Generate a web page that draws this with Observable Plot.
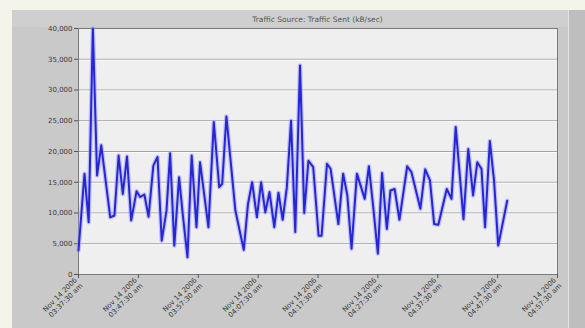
<!DOCTYPE html>
<html>
<head>
<meta charset="utf-8">
<script src="https://cdn.jsdelivr.net/npm/d3@7"></script>
<script src="https://cdn.jsdelivr.net/npm/@observablehq/plot@0.6"></script>
<style>
  html, body { margin: 0; padding: 0; background: #f5f4ea; }
  #wrap { position: relative; width: 585px; height: 328px; overflow: hidden; }
  #panel { position: absolute; left: 12px; top: 10px; width: 556px; height: 318px; background: #c9c9c9; }
  #band { position: absolute; left: 12px; top: 10px; width: 556px; height: 17px; background: #cfcfcf; }
  #edge { position: absolute; left: 568px; top: 10px; width: 17px; height: 318px; background: #bebebe; border-left: 1px solid #e2e2e2; }
  #chart { position: absolute; left: 0; top: 0; }
  #title { position: absolute; left: 78px; width: 479px; top: 15px; text-align: center;
           font: 7.5px "DejaVu Sans", sans-serif; color: #555; }
</style>
</head>
<body>
<div id="wrap">
  <div id="panel"></div>
  <div id="band"></div>
  <div id="edge"></div>
  <div id="title">Traffic Source: Traffic Sent (kB/sec)</div>
  <div id="chart"></div>
</div>
<script>
// minutes after the first tick label
const minutes = [0.0, 1.0, 1.7, 2.4, 3.1, 3.8, 5.3, 6.0, 6.7, 7.4, 8.1, 8.8, 9.7, 10.3, 11.0, 11.7, 12.5, 13.2, 13.9, 14.7,
  15.3, 16.0, 16.8, 17.4, 18.2, 18.9, 19.7, 20.3, 21.7, 22.6, 23.5, 24.0, 24.7, 26.2, 27.6, 28.3, 29.0, 29.8, 30.5, 31.2,
  31.9, 32.7, 33.4, 34.1, 34.8, 35.5, 36.2, 37.0, 37.7, 38.4, 39.2, 40.1, 40.6, 41.5, 42.1, 43.4, 44.2, 44.9, 45.6, 46.5,
  47.8, 48.5, 49.2, 50.0, 50.7, 51.5, 52.1, 52.8, 53.6, 54.9, 55.6, 57.1, 57.9, 58.7, 59.4, 60.1, 61.5, 62.3, 63.0, 64.3,
  65.1, 65.9, 66.6, 67.3, 67.9, 68.7, 69.4, 70.1, 71.6];
// traffic sent (kB/sec)
const traffic = [3900, 16400, 8500, 40000, 16100, 21000, 9300, 9600, 19350, 13100, 19200, 8800, 13550, 12600, 13000, 9400, 17700, 19100, 5500, 10400,
  19700, 4700, 15800, 9900, 2800, 19350, 7700, 18250, 7700, 24800, 14200, 14750, 25700, 10400, 4000, 11400, 15000, 9300, 15000, 10100,
  13400, 7700, 13300, 8900, 14200, 25000, 6900, 34000, 10000, 18500, 17450, 6300, 6300, 18000, 17200, 8200, 16400, 12850, 4200, 16400,
  12300, 17600, 11200, 3400, 16500, 7400, 13650, 13900, 8900, 17600, 16650, 10700, 17100, 15300, 8200, 8100, 13900, 12300, 24000, 9000,
  20400, 12850, 18250, 17200, 7700, 21700, 15300, 4700, 12000];
const xTickValues = [0, 10, 20, 30, 40, 50, 60, 70, 80];
const xTickLabels = [
  "Nov 14 2006\n03:37:30 am", "Nov 14 2006\n03:47:30 am", "Nov 14 2006\n03:57:30 am",
  "Nov 14 2006\n04:07:30 am", "Nov 14 2006\n04:17:30 am", "Nov 14 2006\n04:27:30 am",
  "Nov 14 2006\n04:37:30 am", "Nov 14 2006\n04:47:30 am", "Nov 14 2006\n04:57:30 am"];
const yTickValues = [0, 5000, 10000, 15000, 20000, 25000, 30000, 35000, 40000];

const data = minutes.map((m, i) => ({m, v: traffic[i]}));

const chart = Plot.plot({
  width: 585,
  height: 328,
  marginLeft: 78,
  marginRight: 28,
  marginTop: 28,
  marginBottom: 54,
  style: {background: "transparent", fontFamily: "DejaVu Sans, sans-serif", fontSize: "7px", color: "#3a3a3a"},
  x: {domain: [0, 80], label: null},
  y: {domain: [0, 40000], label: null},
  marks: [
    Plot.frame({fill: "#efefef", stroke: "none"}),
    Plot.ruleY(yTickValues.slice(1, -1), {stroke: "#a2a2a2", strokeWidth: 1}),
    Plot.ruleY(yTickValues.slice(1, -1), {stroke: "#fafafa", strokeWidth: 1, dy: 1}),
    Plot.frame({stroke: "#7a7a7a", strokeWidth: 1}),
    Plot.axisY({ticks: yTickValues, tickFormat: d3.format(","), tickSize: 4, tickPadding: 2, stroke: "#555", fill: "#3a3a3a"}),
    Plot.axisX({ticks: xTickValues, tickFormat: (d, i) => xTickLabels[i], tickSize: 4, tickPadding: 3,
      tickRotate: -45, stroke: "#555", fill: "#3a3a3a", lineHeight: 1.15}),
    Plot.line(data, {x: "m", y: "v", stroke: "#9a9af2", strokeWidth: 4.5, strokeOpacity: 0.55}),
    Plot.line(data, {x: "m", y: "v", stroke: "#2626d6", strokeWidth: 2})
  ]
});
document.getElementById("chart").appendChild(chart);
</script>
</body>
</html>
